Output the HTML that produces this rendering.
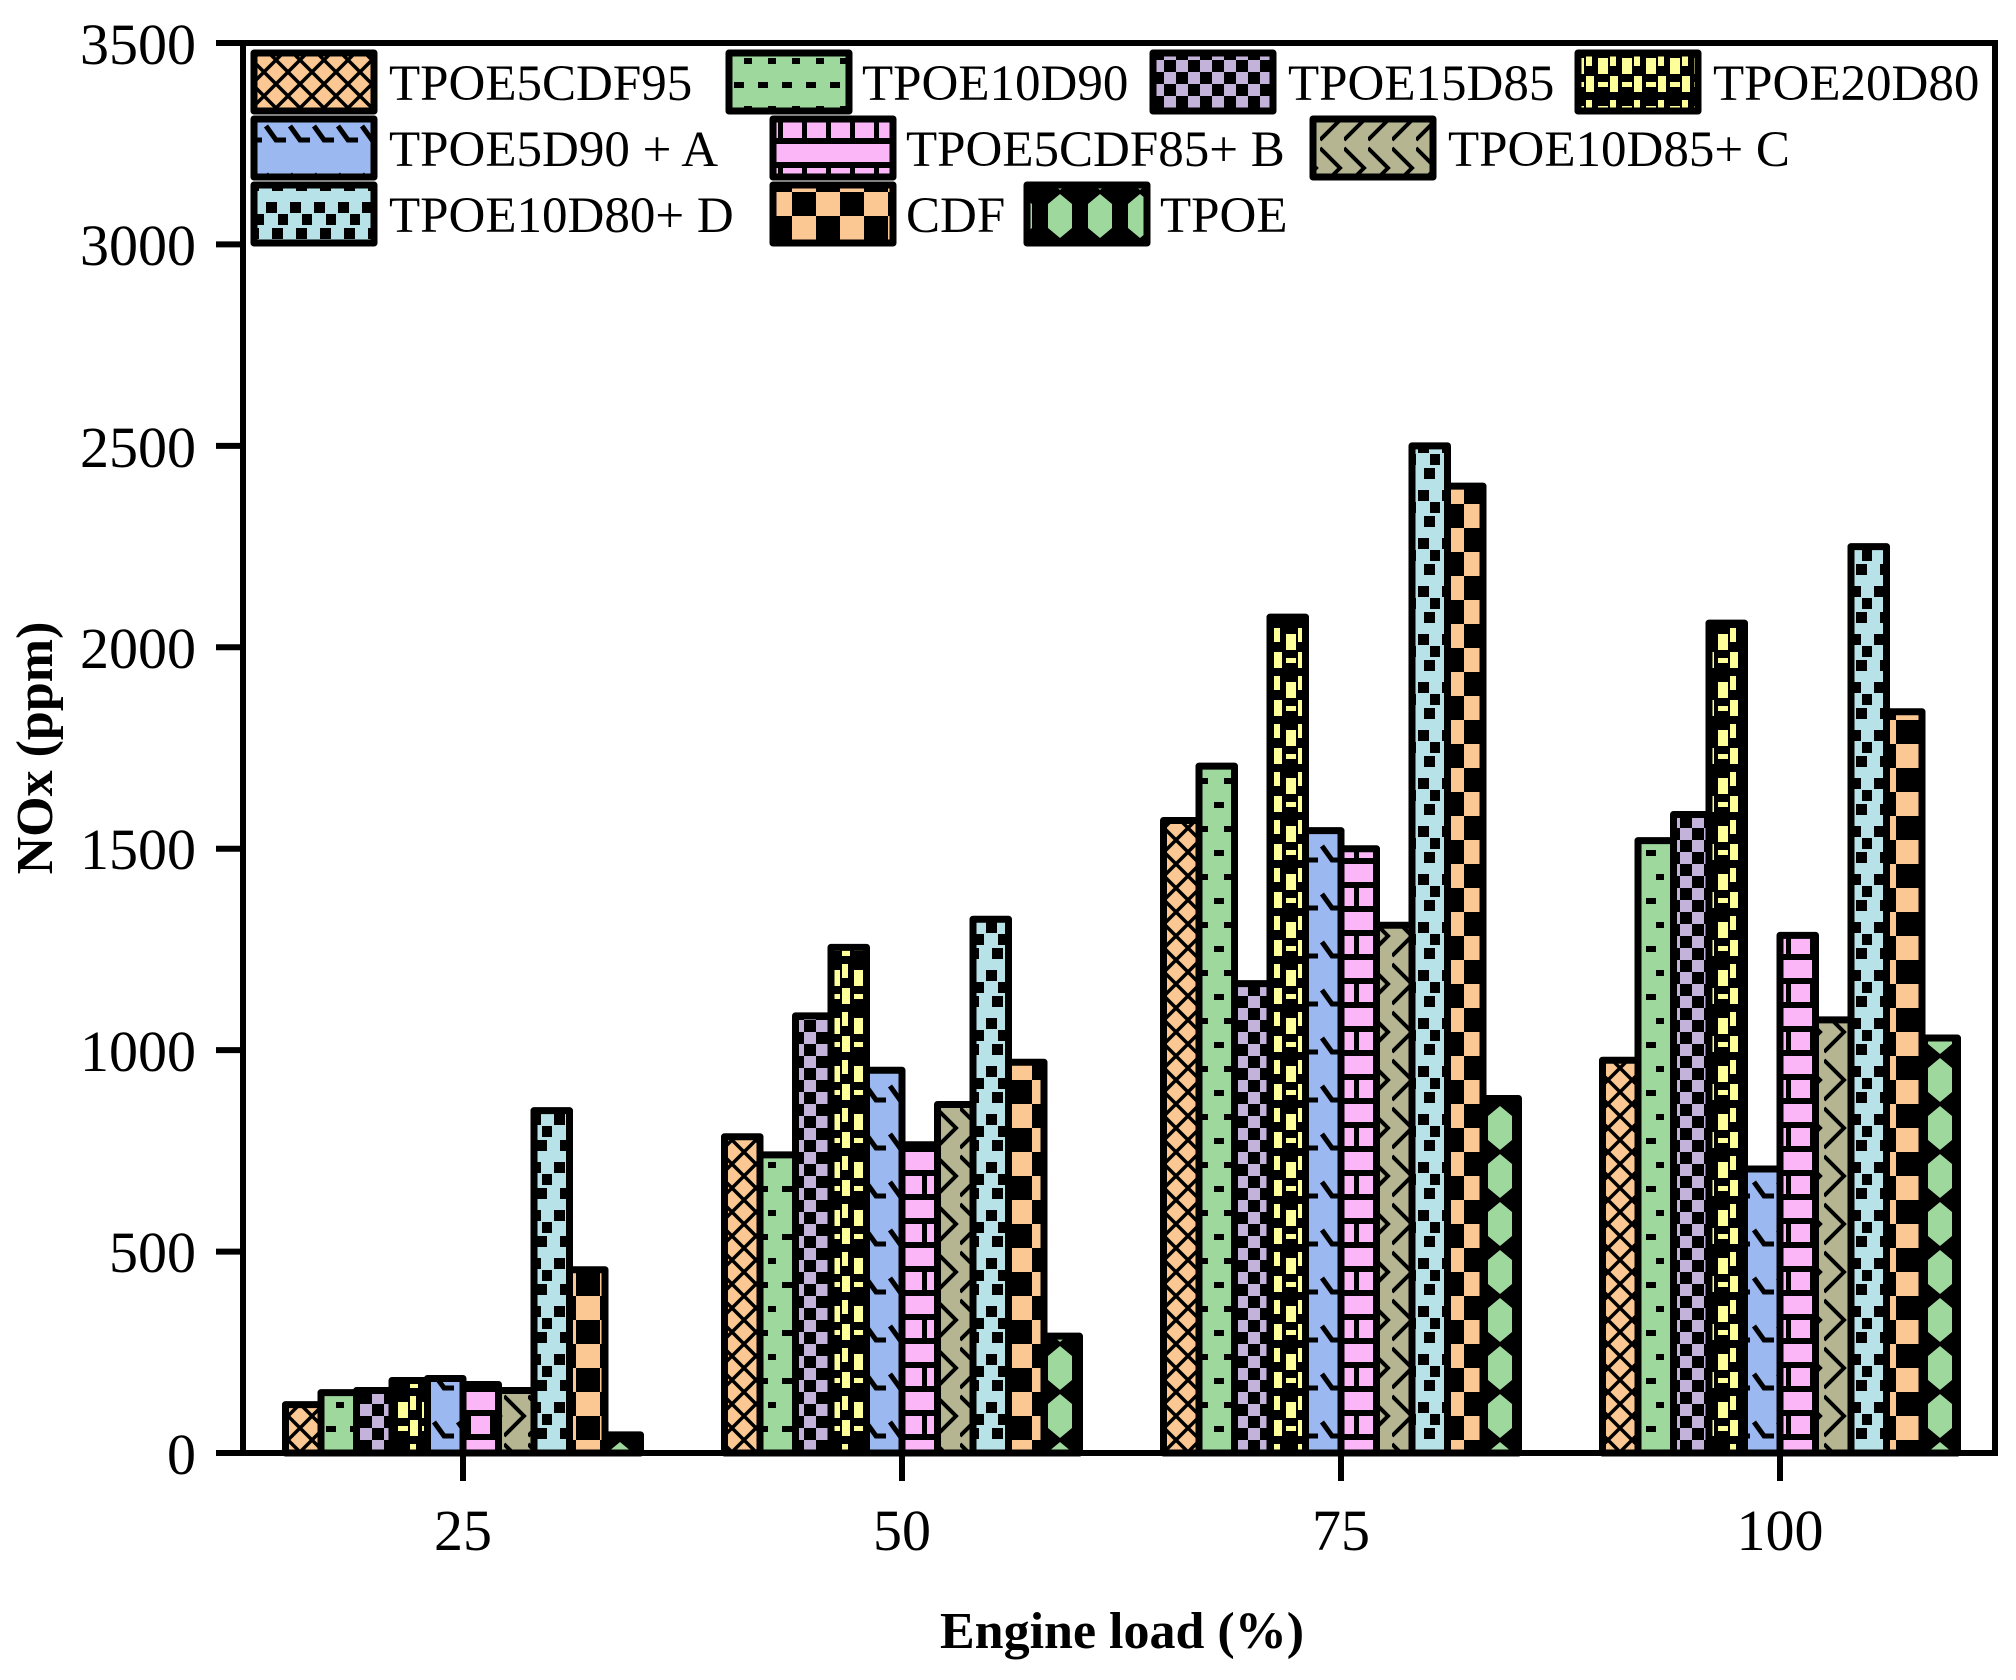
<!DOCTYPE html>
<html><head><meta charset="utf-8"><style>
html,body{margin:0;padding:0;background:#fff;}
svg{display:block;font-family:"Liberation Serif",serif;}
</style></head><body>
<svg width="2016" height="1680" viewBox="0 0 2016 1680" xmlns="http://www.w3.org/2000/svg">
<defs>
<pattern id="p0" patternUnits="userSpaceOnUse" width="24" height="24"><rect width="24" height="24" fill="#FBC894"/><path d="M0 0L24 24M24 0L0 24" stroke="#000" stroke-width="3.5"/></pattern>
<pattern id="p1" patternUnits="userSpaceOnUse" width="24" height="48"><rect width="24" height="48" fill="#9FD89C"/><rect x="0" y="10" width="8" height="6" fill="#000"/><rect x="14" y="34" width="10" height="6" fill="#000"/></pattern>
<pattern id="p2" patternUnits="userSpaceOnUse" width="24" height="24"><rect width="24" height="24" fill="#C3B2D9"/><rect x="0" y="0" width="12" height="12" fill="#000"/><rect x="12" y="12" width="12" height="12" fill="#000"/></pattern>
<pattern id="p3" patternUnits="userSpaceOnUse" width="24" height="48"><rect width="24" height="48" fill="#000"/><rect x="2" y="4" width="6" height="14" fill="#FFFF99"/><rect x="14" y="10" width="10" height="16" fill="#FFFF99"/><rect x="2" y="28" width="8" height="16" fill="#FFFF99"/><rect x="14" y="34" width="10" height="5" fill="#FFFF99"/></pattern>
<pattern id="p4" patternUnits="userSpaceOnUse" width="24" height="48"><rect width="24" height="48" fill="#9CB8F0"/><path d="M2 30L12 44L22 44" stroke="#000" stroke-width="5" fill="none"/></pattern>
<pattern id="p5" patternUnits="userSpaceOnUse" width="24" height="48"><rect width="24" height="48" fill="#FBB6F8"/><rect x="0" y="18" width="24" height="6" fill="#000"/><rect x="0" y="42" width="24" height="6" fill="#000"/><rect x="10" y="24" width="5" height="18" fill="#000"/></pattern>
<pattern id="p6" patternUnits="userSpaceOnUse" width="24" height="48"><rect width="24" height="48" fill="#B5B591"/><path d="M0 4L20 24L0 44" stroke="#000" stroke-width="4" fill="none"/></pattern>
<pattern id="p7" patternUnits="userSpaceOnUse" width="24" height="48"><rect width="24" height="48" fill="#B6E2E8"/><rect x="2" y="10" width="11" height="11" fill="#000"/><rect x="14" y="22" width="10" height="11" fill="#000"/><rect x="8" y="36" width="11" height="11" fill="#000"/></pattern>
<pattern id="p8" patternUnits="userSpaceOnUse" width="48" height="48"><rect width="48" height="48" fill="#FBC894"/><rect x="0" y="24" width="24" height="24" fill="#000"/><rect x="24" y="0" width="24" height="24" fill="#000"/></pattern>
<pattern id="p9" patternUnits="userSpaceOnUse" width="40" height="48"><rect width="40" height="48" fill="#000"/><path d="M20 2L32 12L32 36L20 46L8 36L8 12Z" fill="#9FD89C"/></pattern>
</defs>
<g id="bars" stroke="#000" stroke-width="7" stroke-linejoin="round"></g>
<g stroke="#000" stroke-width="6" fill="none">
<rect x="243" y="43" width="1752" height="1410"/>
</g>
<g stroke="#000" stroke-width="6">
<line x1="216" y1="43" x2="243" y2="43"/><line x1="216" y1="244.4" x2="243" y2="244.4"/><line x1="216" y1="445.9" x2="243" y2="445.9"/><line x1="216" y1="647.3" x2="243" y2="647.3"/><line x1="216" y1="848.7" x2="243" y2="848.7"/><line x1="216" y1="1050.1" x2="243" y2="1050.1"/><line x1="216" y1="1251.6" x2="243" y2="1251.6"/><line x1="216" y1="1453" x2="243" y2="1453"/>
<line x1="463" y1="1453" x2="463" y2="1481"/><line x1="902" y1="1453" x2="902" y2="1481"/><line x1="1341" y1="1453" x2="1341" y2="1481"/><line x1="1780" y1="1453" x2="1780" y2="1481"/>
</g>
<g font-size="58" text-anchor="end">
<text x="196" y="64">3500</text><text x="196" y="265">3000</text><text x="196" y="467">2500</text><text x="196" y="668">2000</text><text x="196" y="869">1500</text><text x="196" y="1071">1000</text><text x="196" y="1272">500</text><text x="196" y="1474">0</text>
</g>
<g font-size="58" text-anchor="middle">
<text x="463" y="1550">25</text><text x="902" y="1550">50</text><text x="1341" y="1550">75</text><text x="1780" y="1550">100</text>
</g>
<text x="1122" y="1648" font-size="52" font-weight="bold" text-anchor="middle">Engine load (%)</text>
<text transform="translate(52,748) rotate(-90)" font-size="52" font-weight="bold" text-anchor="middle">NOx (ppm)</text>
<g stroke="#000" stroke-width="7" stroke-linejoin="round">
<rect x="254" y="53" width="120" height="58" fill="url(#p0)"/>
<rect x="729" y="53" width="120" height="58" fill="url(#p1)"/>
<rect x="1153" y="53" width="120" height="58" fill="url(#p2)"/>
<rect x="1578" y="53" width="120" height="58" fill="url(#p3)"/>
<rect x="254" y="119" width="120" height="58" fill="url(#p4)"/>
<rect x="773" y="119" width="120" height="58" fill="url(#p5)"/>
<rect x="1313" y="119" width="120" height="58" fill="url(#p6)"/>
<rect x="254" y="185" width="120" height="58" fill="url(#p7)"/>
<rect x="773" y="185" width="120" height="58" fill="url(#p8)"/>
<rect x="1027" y="185" width="120" height="58" fill="url(#p9)"/>
</g>
<g font-size="51">
<text x="389" y="100">TPOE5CDF95</text>
<text x="862" y="100">TPOE10D90</text>
<text x="1288" y="100">TPOE15D85</text>
<text x="1713" y="100">TPOE20D80</text>
<text x="389" y="166">TPOE5D90 +  A</text>
<text x="906" y="166">TPOE5CDF85+ B</text>
<text x="1448" y="166">TPOE10D85+ C</text>
<text x="389" y="232">TPOE10D80+ D</text>
<text x="906" y="232">CDF</text>
<text x="1160" y="232">TPOE</text>
</g>
<g stroke="#000" stroke-width="6"><line x1="243" y1="1453" x2="1995" y2="1453"/></g>
</svg>
<script>
const data=[[120,150,155,180,185,170,155,850,455,45],[785,740,1085,1255,950,765,865,1325,970,290],[1570,1705,1165,2075,1545,1500,1310,2500,2400,880],[975,1520,1585,2060,705,1285,1075,2250,1840,1030]];
const centers=[463,902,1341,1780];const w=35.5;const g=document.getElementById('bars');
data.forEach((grp,gi)=>{grp.forEach((v,i)=>{const x=centers[gi]-177.5+i*w;const y=1453-v*0.40286;
const r=document.createElementNS('http://www.w3.org/2000/svg','rect');r.setAttribute('x',x);r.setAttribute('y',y);r.setAttribute('width',w);r.setAttribute('height',1453-y);r.setAttribute('fill','url(#p'+i+')');g.appendChild(r);});});
</script>
</body></html>
